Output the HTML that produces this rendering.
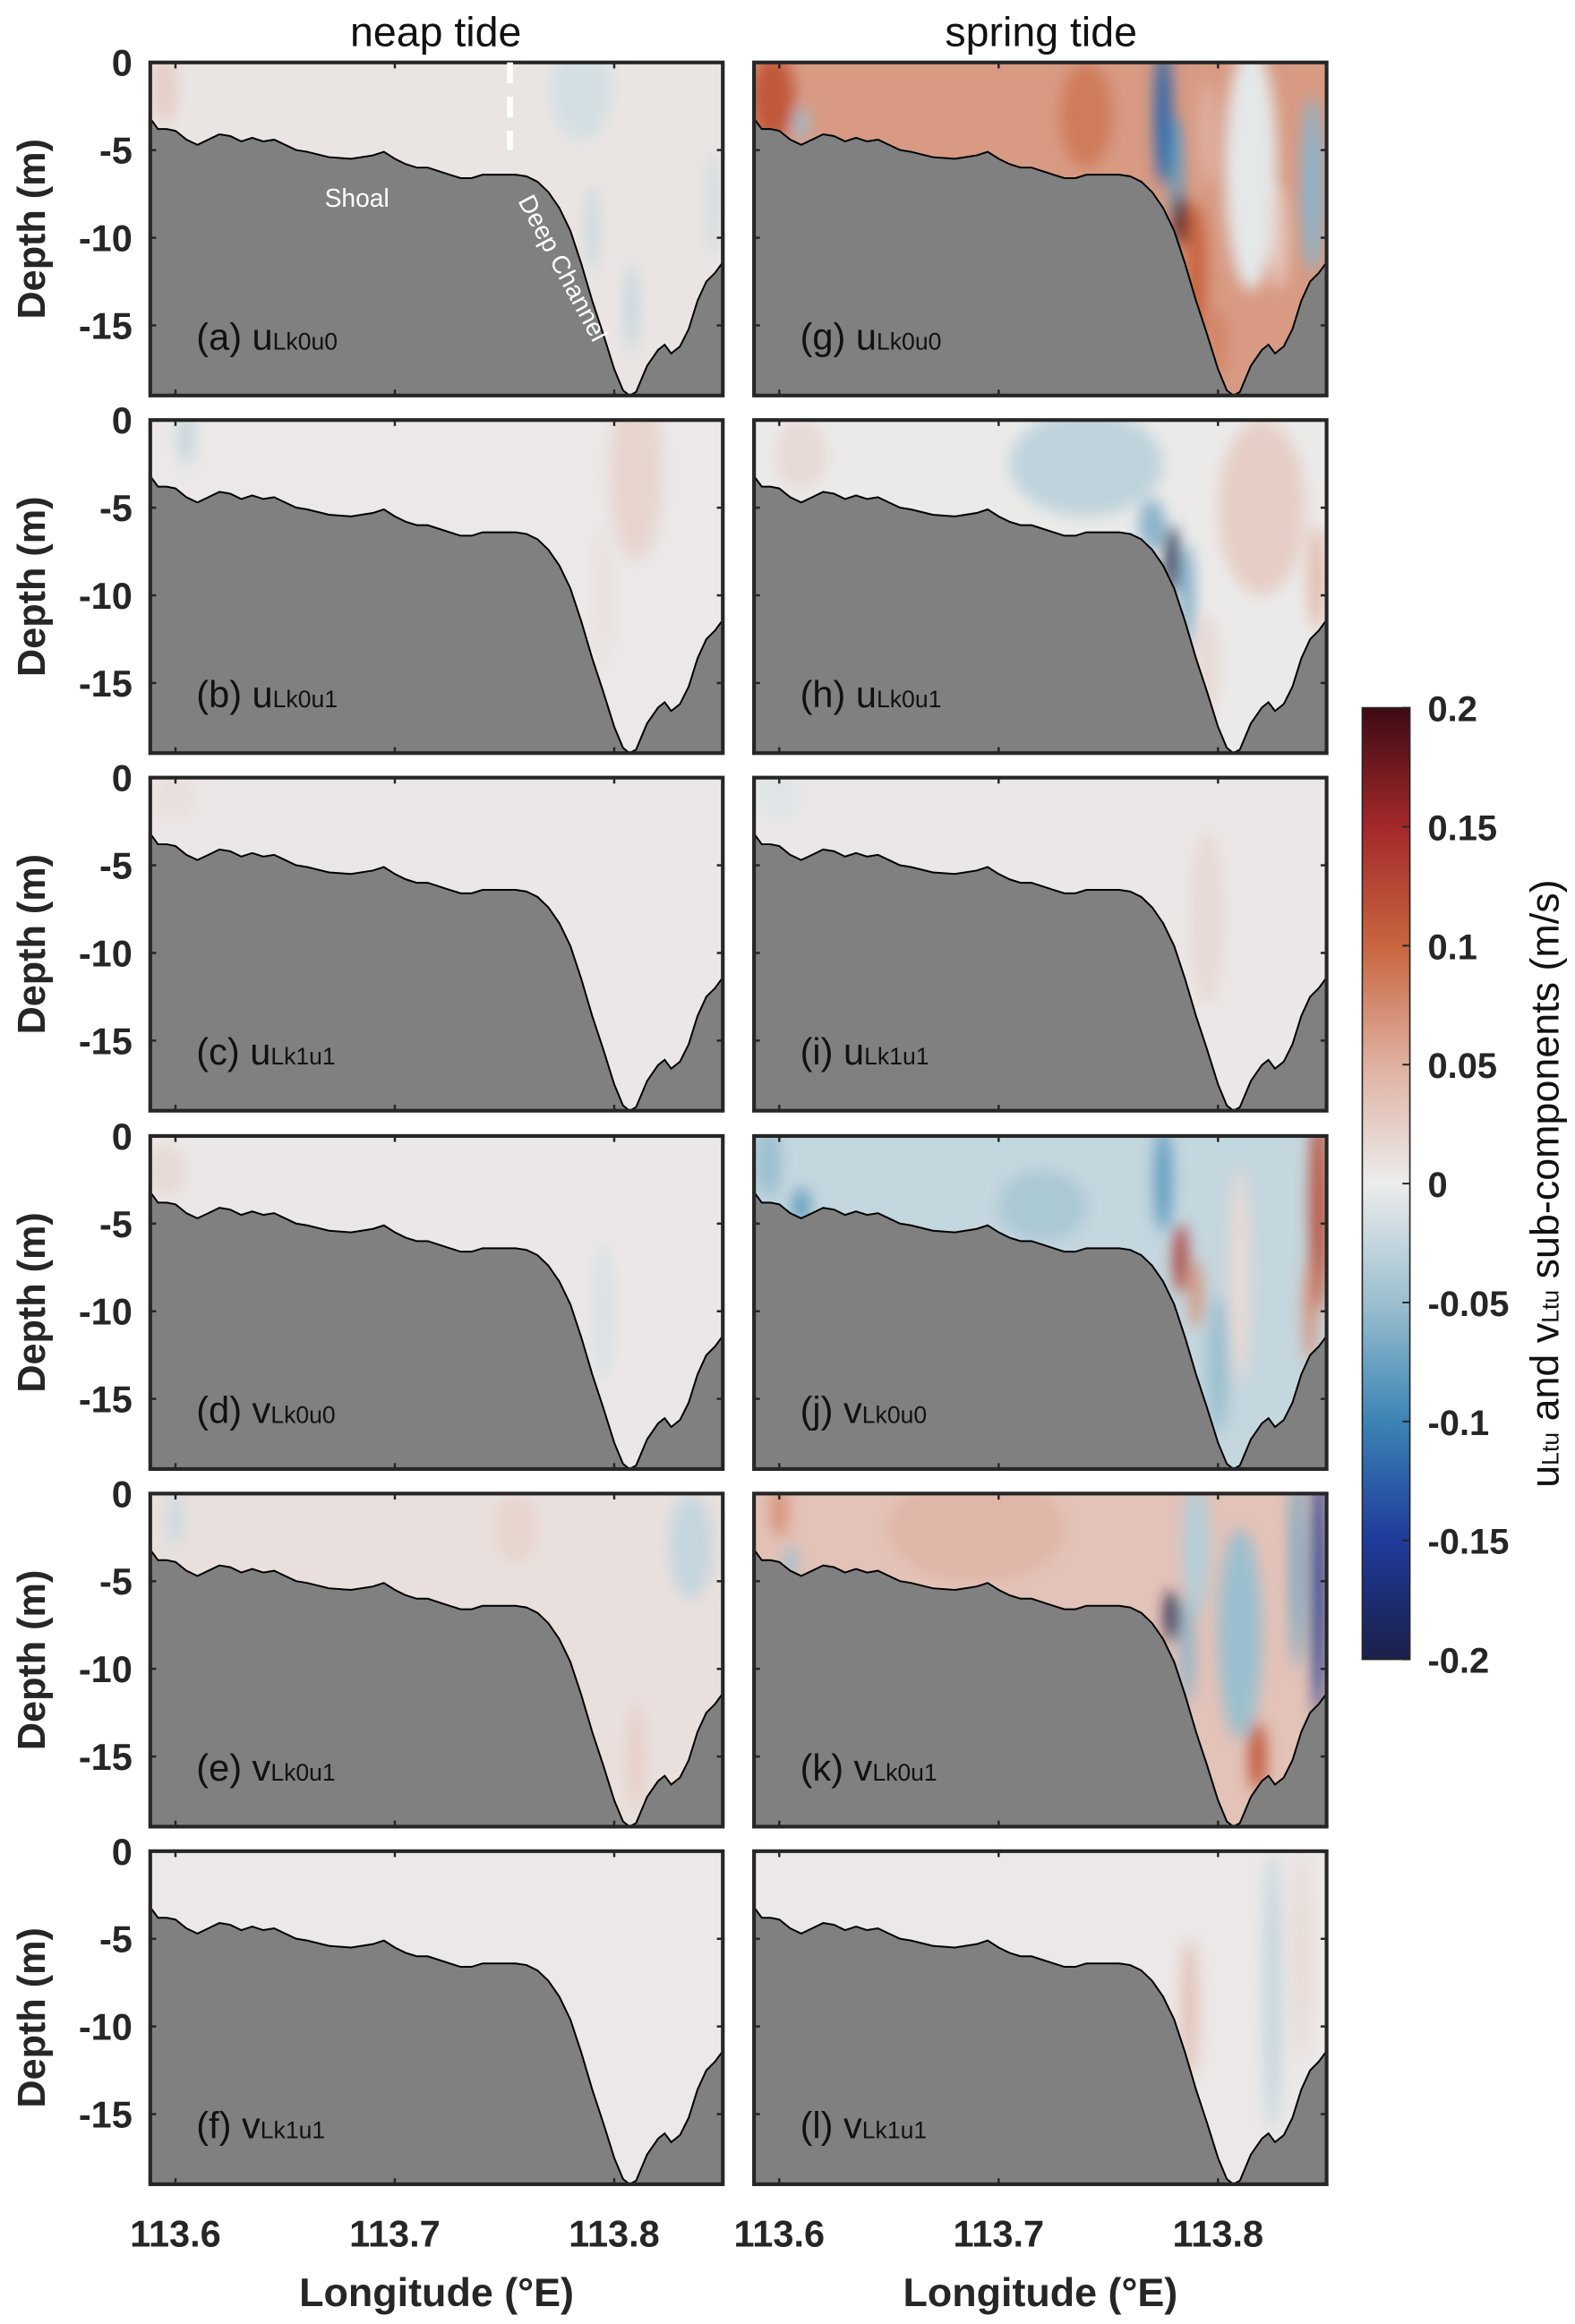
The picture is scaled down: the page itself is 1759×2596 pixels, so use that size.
<!DOCTYPE html>
<html><head><meta charset="utf-8"><style>
html,body{margin:0;padding:0;background:#fff}
svg{display:block}
text{font-family:"Liberation Sans",Arial,sans-serif}
</style></head><body>
<svg id="fig" xmlns="http://www.w3.org/2000/svg" width="1759" height="2596" viewBox="0 0 1059 1563">
<defs>
<filter id="blur" x="-50%" y="-50%" width="200%" height="200%"><feGaussianBlur stdDeviation="5"/></filter>
<linearGradient id="cbgrad" x1="0" y1="1" x2="0" y2="0">
<stop offset="0" stop-color="#1b1f4a"/><stop offset="0.125" stop-color="#1e3a9a"/><stop offset="0.25" stop-color="#3b84b5"/>
<stop offset="0.375" stop-color="#9bbfcf"/><stop offset="0.5" stop-color="#ececec"/><stop offset="0.625" stop-color="#dfb0a0"/>
<stop offset="0.75" stop-color="#c8653f"/><stop offset="0.875" stop-color="#a3282a"/><stop offset="1" stop-color="#3d0a14"/>
</linearGradient>
</defs>
<g id="root"></g>
</svg>
<script>
// bathymetry data
const bathLon=[113.5885,113.592,113.596,113.600,113.605,113.610,113.615,113.620,113.625,113.630,113.635,113.640,113.645,113.650,113.655,113.660,113.670,113.680,113.690,113.695,113.700,113.705,113.710,113.715,113.720,113.725,113.730,113.735,113.740,113.745,113.750,113.755,113.760,113.765,113.770,113.775,113.780,113.785,113.790,113.795,113.800,113.804,113.807,113.810,113.815,113.820,113.823,113.826,113.830,113.834,113.838,113.842,113.846,113.8495];
const bathDepth=[-3.2,-3.8,-3.8,-3.9,-4.4,-4.7,-4.4,-4.1,-4.2,-4.5,-4.3,-4.5,-4.4,-4.7,-5.0,-5.1,-5.4,-5.5,-5.3,-5.1,-5.5,-5.8,-6.0,-6.0,-6.2,-6.4,-6.6,-6.6,-6.4,-6.4,-6.4,-6.4,-6.5,-6.8,-7.4,-8.3,-9.6,-11.5,-13.6,-15.5,-17.5,-18.7,-19.0,-18.8,-17.3,-16.4,-16.1,-16.6,-16.2,-15.2,-13.6,-12.5,-12.0,-11.4];
const xTicks=[113.6,113.7,113.8];
const yTicks=[0,-5,-10,-15];
const cbTicks=[0.2,0.15,0.1,0.05,0,-0.05,-0.1,-0.15,-0.2];
const panelLetters=['a','b','c','d','e','f','g','h','i','j','k','l'];
const panelVars=[['u','Lk0u0'],['u','Lk0u1'],['u','Lk1u1'],['v','Lk0u0'],['v','Lk0u1'],['v','Lk1u1'],['u','Lk0u0'],['u','Lk0u1'],['u','Lk1u1'],['v','Lk0u0'],['v','Lk0u1'],['v','Lk1u1']];
const panelBase=[0.006,0.003,0.004,0.004,0.01,0.003,0.065,0.002,0.004,-0.025,0.035,0.003];
// blobs: [lon, depth, lonRadius, depthRadius, value]
const panelBlobs=[
 [[113.595,-1.5,0.006,2,0.025],[113.785,-1.5,0.014,3,-0.015],[113.79,-9.5,0.002,2.5,-0.03],[113.808,-14,0.003,2.5,-0.025],[113.845,-8,0.002,3,-0.025]],
 [[113.605,-1,0.003,1.5,-0.03],[113.81,-3,0.012,5,0.02],[113.795,-10,0.004,4,0.01]],
 [[113.6,-1,0.01,1.5,0.01]],
 [[113.595,-2,0.01,1.5,0.015],[113.795,-10,0.005,4,-0.012]],
 [[113.6,-1.5,0.004,1.5,-0.02],[113.755,-2,0.01,2,0.02],[113.835,-3,0.01,3,-0.025],[113.81,-15,0.004,3,0.025]],
 [],
 [[113.597,-2,0.01,2.5,0.11],[113.61,-3.5,0.003,1,-0.05],[113.74,-3,0.012,3,0.085],[113.775,-3,0.004,4,-0.12],[113.781,-6,0.003,3,-0.08],[113.783,-9,0.003,1.5,0.2],[113.79,-12,0.005,4,0.1],[113.8,-16,0.004,2,0.08],[113.815,-6,0.012,7,-0.005],[113.843,-7,0.005,5,-0.06],[113.828,-10,0.004,3,0.03],[113.795,-4,0.004,3,0.05]],
 [[113.61,-2,0.012,2,0.015],[113.74,-2.5,0.035,3,-0.028],[113.77,-6,0.006,1.5,-0.06],[113.779,-8,0.003,2,-0.2],[113.786,-10,0.003,3,-0.07],[113.82,-5,0.02,5,0.025],[113.845,-9,0.004,3,0.04],[113.795,-14,0.006,3,0.015]],
 [[113.6,-1,0.01,1.5,-0.008],[113.795,-8,0.008,5,0.015]],
 [[113.595,-1.5,0.006,2,-0.05],[113.61,-4,0.004,1,-0.08],[113.72,-4,0.02,2,-0.04],[113.775,-2.5,0.004,3,-0.08],[113.783,-7,0.003,2,0.14],[113.79,-9,0.003,2,0.07],[113.8,-13,0.005,4,-0.05],[113.81,-8,0.005,6,0.015],[113.846,-4,0.004,6,0.12],[113.842,-10,0.003,3,0.07]],
 [[113.6,-1,0.004,1.5,0.07],[113.605,-4,0.003,1,-0.05],[113.69,-2,0.04,3,0.045],[113.79,-3,0.006,4,-0.035],[113.779,-7,0.003,1.5,-0.2],[113.786,-9,0.003,3,-0.06],[113.81,-8,0.01,6,-0.05],[113.818,-15,0.004,2,0.11],[113.846,-5,0.003,8,-0.16],[113.836,-4,0.003,6,-0.07]],
 [[113.787,-9,0.004,4,0.035],[113.825,-8,0.004,8,-0.025],[113.838,-6,0.004,6,0.015]]
];
const NS='http://www.w3.org/2000/svg';
const root=document.getElementById('root');
function mk(tag,attrs,parent){const e=document.createElementNS(NS,tag);for(const k in attrs)e.setAttribute(k,attrs[k]);(parent||root).appendChild(e);return e;}
const stops=[[-0.2,[27,31,74]],[-0.15,[30,58,154]],[-0.1,[59,132,181]],[-0.05,[155,191,207]],[0,[236,236,236]],[0.05,[223,176,160]],[0.1,[200,101,63]],[0.15,[163,40,42]],[0.2,[61,10,20]]];
function cmap(v){v=Math.max(-0.2,Math.min(0.2,v));for(let i=0;i<stops.length-1;i++){const a=stops[i],b=stops[i+1];if(v<=b[0]){const t=(v-a[0])/(b[0]-a[0]);const c=a[1].map((x,j)=>Math.round(x+(b[1][j]-x)*t));return `rgb(${c[0]},${c[1]},${c[2]})`;}}return 'rgb(61,10,20)';}
const lonMin=113.5885,lonMax=113.8495,dMin=-19,PW=385,PH=224;
const colX=[101,507],rowY=[42,282.5,523,764,1004.5,1245];
for(let p=0;p<12;p++){
 const col=Math.floor(p/6),row=p%6,x0=colX[col],y0=rowY[row];
 const X=l=>x0+(l-lonMin)/(lonMax-lonMin)*PW;
 const Y=d=>y0+(d/dMin)*PH;
 const g=mk('g',{});
 
 
 const cid='clip'+p;
 const cp=mk('clipPath',{id:cid},g);
 let wpts=`${X(lonMin)},${Y(0)} ${X(lonMax)},${Y(0)} `;
 for(let i=bathLon.length-1;i>=0;i--)wpts+=`${X(bathLon[i]).toFixed(1)},${Y(bathDepth[i]).toFixed(1)} `;
 mk('polygon',{points:wpts},cp);
 mk('rect',{x:x0,y:y0,width:PW,height:PH,fill:'#808080'},g);
 const fg=mk('g',{'clip-path':`url(#${cid})`},g);
 mk('rect',{x:x0,y:y0,width:PW,height:PH,fill:cmap(panelBase[p])},fg);
 const bg=mk('g',{filter:'url(#blur)'},fg);
 panelBlobs[p].forEach(b=>{
  const e=mk('ellipse',{cx:X(b[0]),cy:Y(b[1]),rx:b[2]/(lonMax-lonMin)*PW,ry:b[3]/(-dMin)*PH,fill:cmap(b[4])},bg);
  
  
 });
 let bl='';bathLon.forEach((l,i)=>bl+=`${X(l).toFixed(1)},${Y(bathDepth[i]).toFixed(1)} `);
 const bline=mk('polyline',{points:bl,fill:'none',stroke:'#000','stroke-width':1.2},g);
 
 
 mk('rect',{x:x0,y:y0,width:PW,height:PH,fill:'none',stroke:'#262626','stroke-width':2.5},g);
 xTicks.forEach(t=>{mk('line',{x1:X(t),x2:X(t),y1:y0,y2:y0+4,stroke:'#262626','stroke-width':1.5},g);mk('line',{x1:X(t),x2:X(t),y1:y0+PH,y2:y0+PH-4,stroke:'#262626','stroke-width':1.5},g);});
 yTicks.forEach(t=>{mk('line',{x1:x0,x2:x0+4,y1:Y(t),y2:Y(t),stroke:'#262626','stroke-width':1.5},g);mk('line',{x1:x0+PW,x2:x0+PW-4,y1:Y(t),y2:Y(t),stroke:'#262626','stroke-width':1.5},g);});
 if(col===0){
  yTicks.forEach(t=>{const tx=mk('text',{x:x0-12,y:Y(t)+9,'text-anchor':'end','font-size':25,'font-weight':'bold',fill:'#262626'},g);tx.textContent=t;
   
   });
  const yl=mk('text',{x:0,y:0,transform:`translate(30,${y0+PH/2}) rotate(-90)`,'text-anchor':'middle','font-size':26,'font-weight':'bold',fill:'#262626'},g);
  yl.textContent='Depth (m)';
  
  
 }
 if(row===5){
  xTicks.forEach(t=>{const tx=mk('text',{x:X(t),y:y0+PH+42,'text-anchor':'middle','font-size':25,'font-weight':'bold',fill:'#262626'},g);tx.textContent=t.toFixed(1);
   
   });
  const xl=mk('text',{x:x0+PW/2,y:y0+PH+82,'text-anchor':'middle','font-size':27,'font-weight':'bold',fill:'#262626'},g);
  xl.textContent='Longitude (°E)';
  
  
 }
 const lab=mk('text',{x:x0+31,y:y0+193,'font-size':25,fill:'#111'},g);
 
 
 const s1=mk('tspan',{},lab);s1.textContent=`(${panelLetters[p]}) ${panelVars[p][0]}`;
 const s2=mk('tspan',{'font-size':16},lab);s2.textContent=panelVars[p][1];
 if(p===0){
  const dl=mk('line',{x1:X(113.7525),x2:X(113.7525),y1:Y(0),y2:Y(-5),stroke:'#fff','stroke-width':4,'stroke-dasharray':'14,9'},g);
  
  
  const sh=mk('text',{x:240,y:139,'text-anchor':'middle','font-size':17,fill:'#fff'},g);sh.textContent='Shoal';
  
  
  const dc=mk('text',{x:0,y:0,transform:'translate(348,135) rotate(62)','font-size':17,fill:'#fff'},g);dc.textContent='Deep Channel';
  
  
 }
}
// column titles
[['neap tide',293],['spring tide',700]].forEach(([t,x])=>{const e=mk('text',{x:x,y:31,'text-anchor':'middle','font-size':28,fill:'#111'});e.textContent=t;
 
 });
// colorbar
const cbX=916,cbY0=476,cbY1=1116;
const cbr=mk('rect',{x:cbX,y:cbY0,width:32,height:cbY1-cbY0,fill:'url(#cbgrad)',stroke:'#262626','stroke-width':1});


const CY=v=>cbY0+(0.2-v)/0.4*(cbY1-cbY0);
cbTicks.forEach(t=>{mk('line',{x1:cbX+32,x2:cbX+27,y1:CY(t),y2:CY(t),stroke:'#262626','stroke-width':1.2});
 const e=mk('text',{x:960,y:CY(t)+9,'font-size':24,'font-weight':'bold',fill:'#262626'});e.textContent=String(t);
 
 });
const ct=mk('text',{x:0,y:0,transform:'translate(1048,796) rotate(-90)','text-anchor':'middle','font-size':27,fill:'#111'});


[['u',27],['Ltu',16],[' and v',27],['Ltu',16],['  sub-components (m/s)',27]].forEach(([s,f])=>{const ts=mk('tspan',{'font-size':f},ct);ts.textContent=s;});
</script>
</body></html>
